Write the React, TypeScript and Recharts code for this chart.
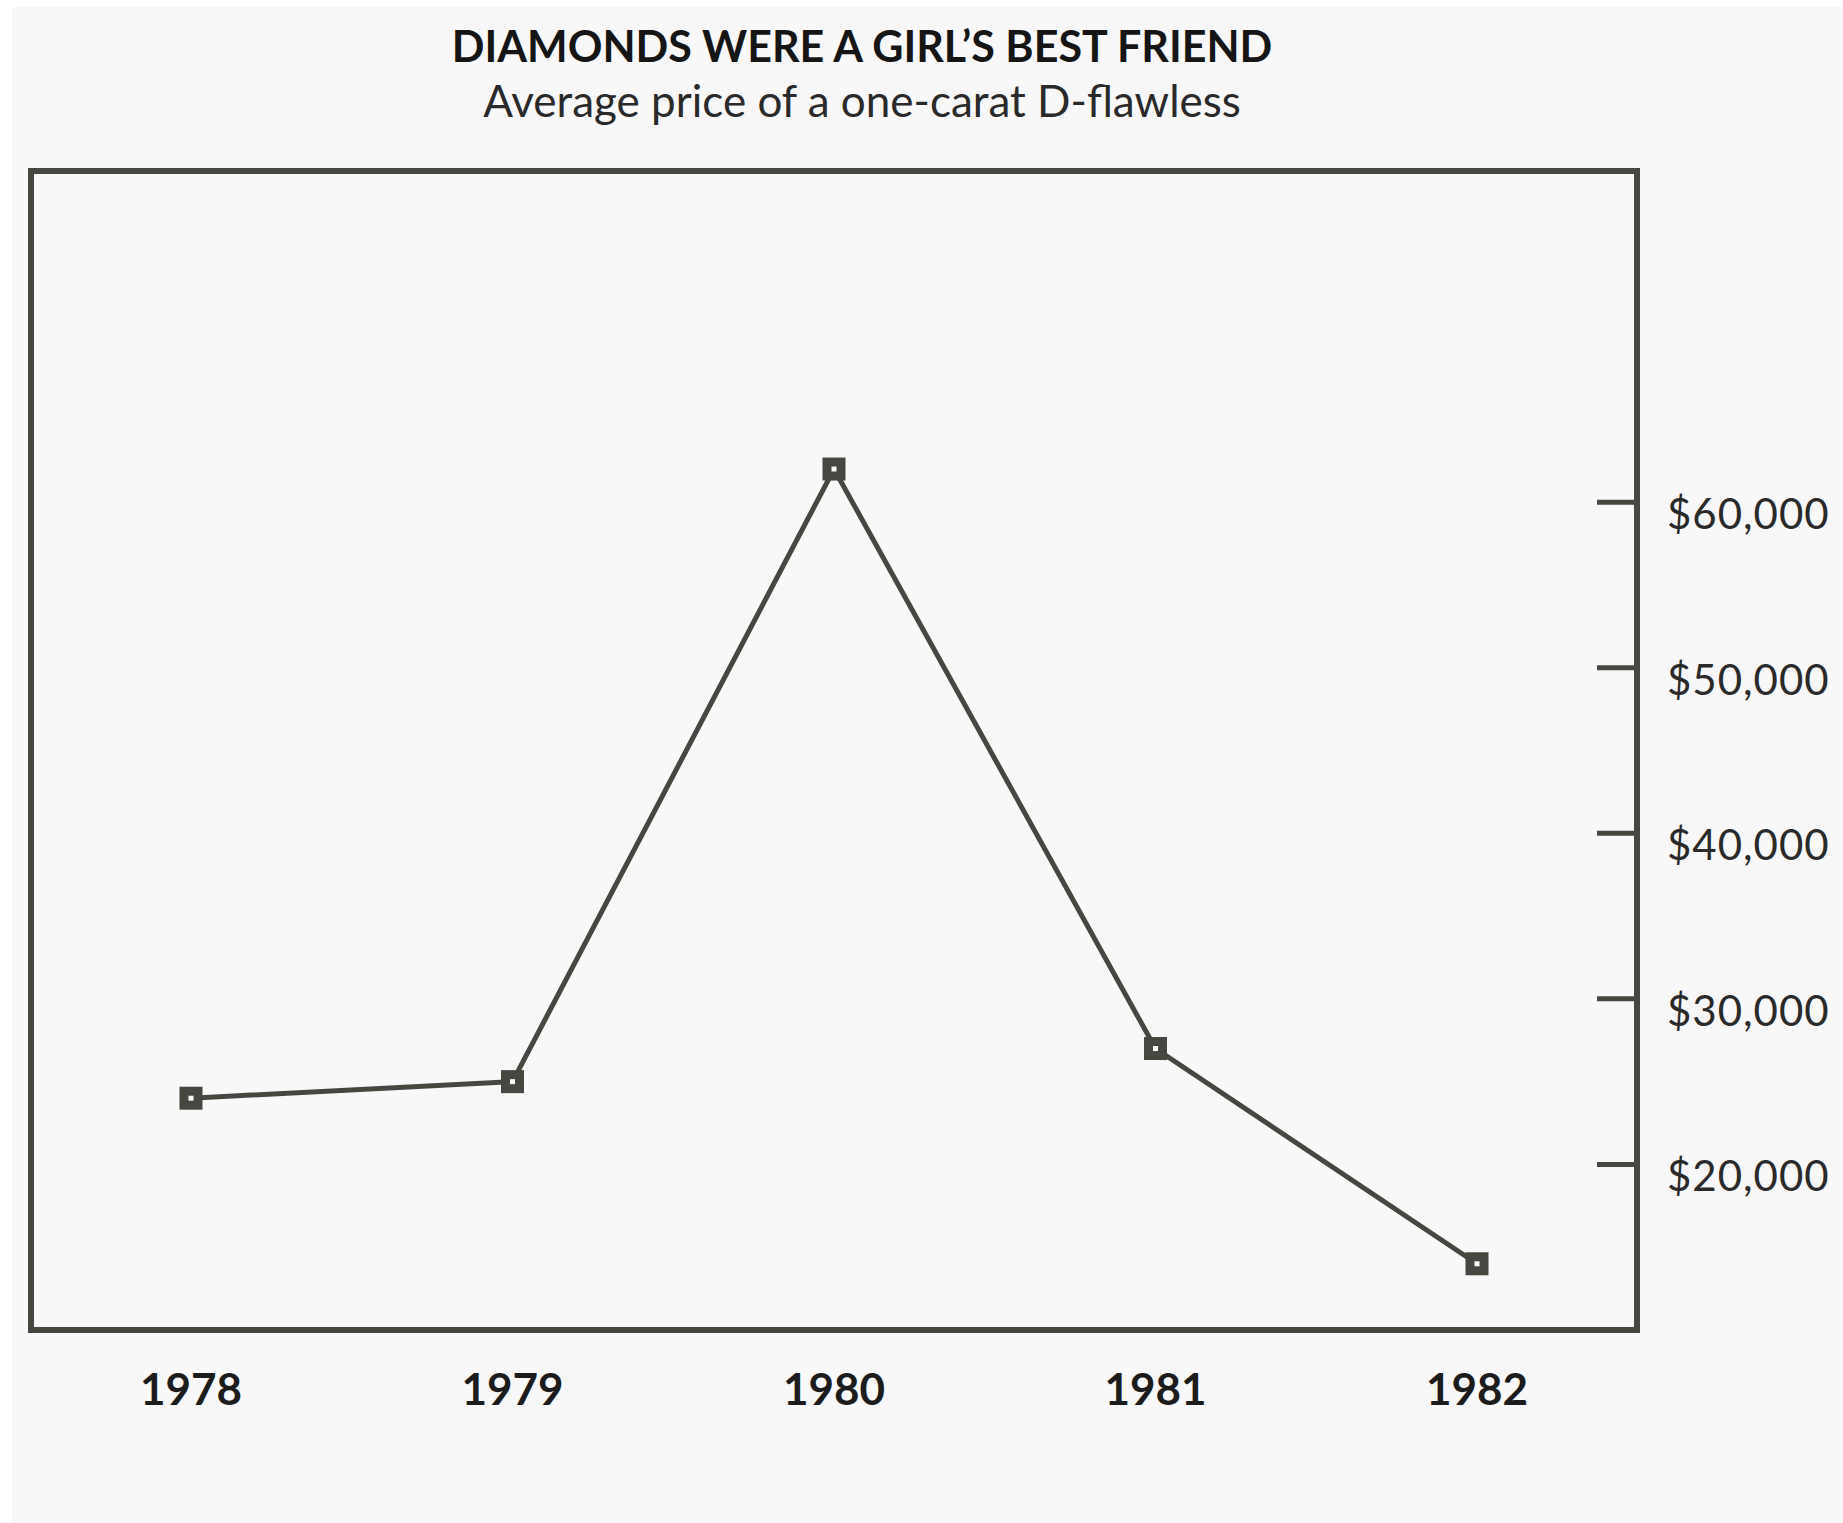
import React from 'react';
import { LineChart, Line, XAxis, YAxis } from 'recharts';

// Average price of a one-carat D-flawless diamond, by year
const years = ['1978', '1979', '1980', '1981', '1982'];
const prices = [24000, 25000, 62000, 27000, 14000];
const priceTicks = [20000, 30000, 40000, 50000, 60000];
const priceDomain = [10000, 80000];

const data = years.map((year, i) => ({ year, price: prices[i] }));

const INK = '#474742';
const BG = '#f8f8f8';
const FONT = 'Lato, "Open Sans", sans-serif';

const frameLine = { stroke: INK, strokeWidth: 6, strokeLinecap: 'square' as const };

const formatPrice = (v: number) => '$' + v.toLocaleString('en-US');

// Year labels under the frame, no tick marks
const YearTick = (props: any) => {
  const { x, y, payload } = props;
  return (
    <text x={x} y={y} textAnchor="middle" fontFamily={FONT} fontWeight={700} fontSize={44} fill="#1c1c1c">
      {payload.value}
    </text>
  );
};

// Tick mark sits inside the frame, label outside to the right
const PriceTick = (props: any) => {
  const { x, y, payload } = props;
  return (
    <g>
      <line x1={x - 70} x2={x - 30} y1={y} y2={y} stroke={INK} strokeWidth={5} />
      <text x={x} y={y + 27} textAnchor="start" fontFamily={FONT} fontSize={42} letterSpacing={1} fill="#2a2a2a">
        {formatPrice(payload.value)}
      </text>
    </g>
  );
};

const SquareDot = (props: any) => {
  const { cx, cy } = props;
  if (cx == null || cy == null) return null;
  return <rect x={cx - 7} y={cy - 7} width={14} height={14} fill={BG} stroke={INK} strokeWidth={9} />;
};

export default function App() {
  return (
    <div style={{ position: 'absolute', left: 0, top: 0, width: 1843, height: 1523, background: '#ffffff', overflow: 'hidden' }}>
      <div style={{ position: 'absolute', left: 12, top: 7, right: 0, bottom: 0, background: BG }} />

      <svg width={1843} height={140} style={{ position: 'absolute', left: 0, top: 0 }}>
        <text x={862} y={62} textAnchor="middle" fontFamily={FONT} fontWeight={700} fontSize={43} fill="#151515">
          DIAMONDS WERE A GIRL’S BEST FRIEND
        </text>
        <text x={862} y={117} textAnchor="middle" fontFamily={FONT} fontSize={44} fill="#2a2a2a">
          Average price of a one-carat D-flawless
        </text>
      </svg>

      <div style={{ position: 'absolute', left: 0, top: 0 }}>
        <LineChart width={1843} height={1470} data={data} margin={{ top: 170, left: 30, right: 0, bottom: 0 }}>
          <XAxis
            dataKey="year"
            height={140}
            padding={{ left: 160, right: 160 }}
            axisLine={frameLine}
            tickLine={false}
            tickSize={0}
            tickMargin={75}
            tick={<YearTick />}
            interval={0}
          />
          {/* thin helper axes so the frame closes on top and left */}
          <XAxis xAxisId="frameTop" dataKey="year" orientation="top" height={1} axisLine={frameLine} tick={false} tickLine={false} />
          <YAxis
            orientation="right"
            width={206}
            domain={priceDomain}
            ticks={priceTicks}
            axisLine={frameLine}
            tickLine={false}
            tickSize={0}
            tickMargin={30}
            tick={<PriceTick />}
            interval={0}
          />
          <YAxis yAxisId="frameLeft" orientation="left" width={1} domain={priceDomain} ticks={priceTicks} axisLine={frameLine} tick={false} tickLine={false} />
          <Line
            dataKey="price"
            type="linear"
            stroke={INK}
            strokeWidth={5}
            dot={<SquareDot />}
            activeDot={false}
            isAnimationActive={false}
          />
        </LineChart>
      </div>
    </div>
  );
}
